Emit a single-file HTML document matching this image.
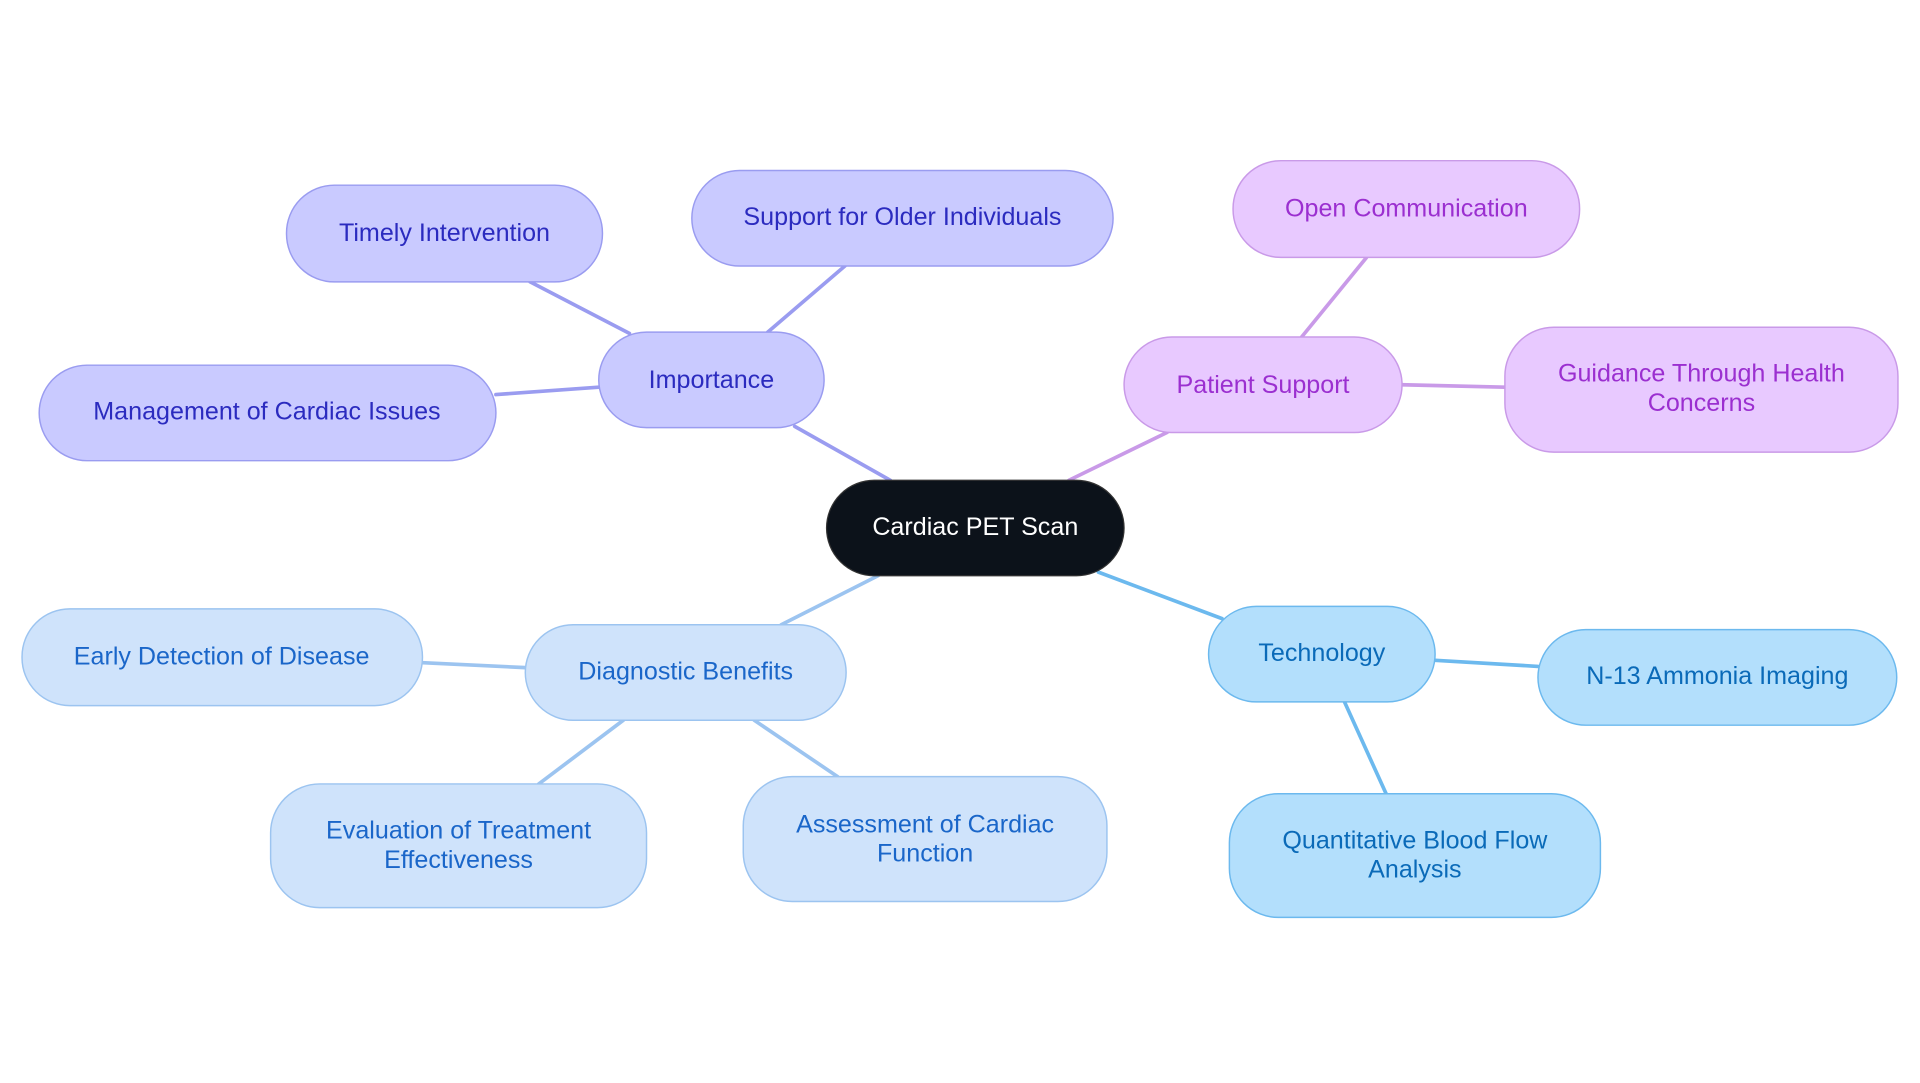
<!DOCTYPE html>
<html><head><meta charset="utf-8"><style>
html,body{margin:0;padding:0;background:#fff;width:1920px;height:1083px;overflow:hidden}
svg{display:block}
text{font-family:"Liberation Sans",sans-serif;font-size:20.5px;text-anchor:middle;dominant-baseline:central}
</style></head><body>
<svg width="1920" height="1083" viewBox="0 0 1568 884" xmlns="http://www.w3.org/2000/svg">
<g stroke-width="3" fill="none" stroke-linecap="round">
<g stroke="#9a9cf0">
<line x1="727" y1="392" x2="649" y2="348"/>
<line x1="514" y1="272" x2="433" y2="230"/>
<line x1="627" y1="271" x2="690" y2="217"/>
<line x1="489" y1="316" x2="405" y2="322"/>
</g>
<g stroke="#c99ae8">
<line x1="873" y1="392" x2="953" y2="353"/>
<line x1="1063" y1="275" x2="1116" y2="210"/>
<line x1="1145" y1="314" x2="1229" y2="316"/>
</g>
<g stroke="#9cc4f0">
<line x1="717" y1="470" x2="638" y2="510"/>
<line x1="429" y1="545" x2="345" y2="541"/>
<line x1="509" y1="588" x2="440" y2="640"/>
<line x1="616" y1="588" x2="684" y2="634"/>
</g>
<g stroke="#6cb9ee">
<line x1="897" y1="467" x2="998" y2="505"/>
<line x1="1172" y1="539" x2="1256" y2="544"/>
<line x1="1098" y1="573" x2="1132" y2="648"/>
</g>
</g>
<!-- center -->
<rect x="675" y="392" width="243" height="78" rx="39" fill="#0c121a" stroke="#333" stroke-width="1"/>
<text x="796.5" y="430" fill="#fff">Cardiac PET Scan</text>
<!-- importance -->
<g fill="#c9caff" stroke="#9a9cf0" stroke-width="1.2">
<rect x="489" y="271" width="184" height="78" rx="39"/>
<rect x="234" y="151" width="258" height="79" rx="39"/>
<rect x="565" y="139" width="344" height="78" rx="39"/>
<rect x="32" y="298" width="373" height="78" rx="39"/>
</g>
<g fill="#2b2bbf">
<text x="581" y="310">Importance</text>
<text x="363" y="190">Timely Intervention</text>
<text x="737" y="177">Support for Older Individuals</text>
<text x="218" y="336">Management of Cardiac Issues</text>
</g>
<!-- patient -->
<g fill="#e8c9ff" stroke="#c99ae8" stroke-width="1.2">
<rect x="918" y="275" width="227" height="78" rx="39"/>
<rect x="1007" y="131" width="283" height="79" rx="39"/>
<rect x="1229" y="267" width="321" height="102" rx="40"/>
</g>
<g fill="#9b2fd0">
<text x="1031.5" y="314">Patient Support</text>
<text x="1148.5" y="170">Open Communication</text>
<text x="1389.5" y="305">Guidance Through Health</text>
<text x="1389.5" y="329">Concerns</text>
</g>
<!-- diagnostic -->
<g fill="#cfe3fb" stroke="#9cc4f0" stroke-width="1.2">
<rect x="429" y="510" width="262" height="78" rx="39"/>
<rect x="18" y="497" width="327" height="79" rx="39"/>
<rect x="221" y="640" width="307" height="101" rx="40"/>
<rect x="607" y="634" width="297" height="102" rx="40"/>
</g>
<g fill="#1a66c9">
<text x="560" y="548">Diagnostic Benefits</text>
<text x="181" y="536">Early Detection of Disease</text>
<text x="374.5" y="678">Evaluation of Treatment</text>
<text x="374.5" y="702">Effectiveness</text>
<text x="755.5" y="673">Assessment of Cardiac</text>
<text x="755.5" y="697">Function</text>
</g>
<!-- technology -->
<g fill="#b3dffc" stroke="#6cb9ee" stroke-width="1.2">
<rect x="987" y="495" width="185" height="78" rx="39"/>
<rect x="1256" y="514" width="293" height="78" rx="39"/>
<rect x="1004" y="648" width="303" height="101" rx="40"/>
</g>
<g fill="#0a6ab8">
<text x="1079.5" y="533">Technology</text>
<text x="1402.5" y="552">N-13 Ammonia Imaging</text>
<text x="1155.5" y="686">Quantitative Blood Flow</text>
<text x="1155.5" y="710">Analysis</text>
</g>
</svg>
</body></html>
